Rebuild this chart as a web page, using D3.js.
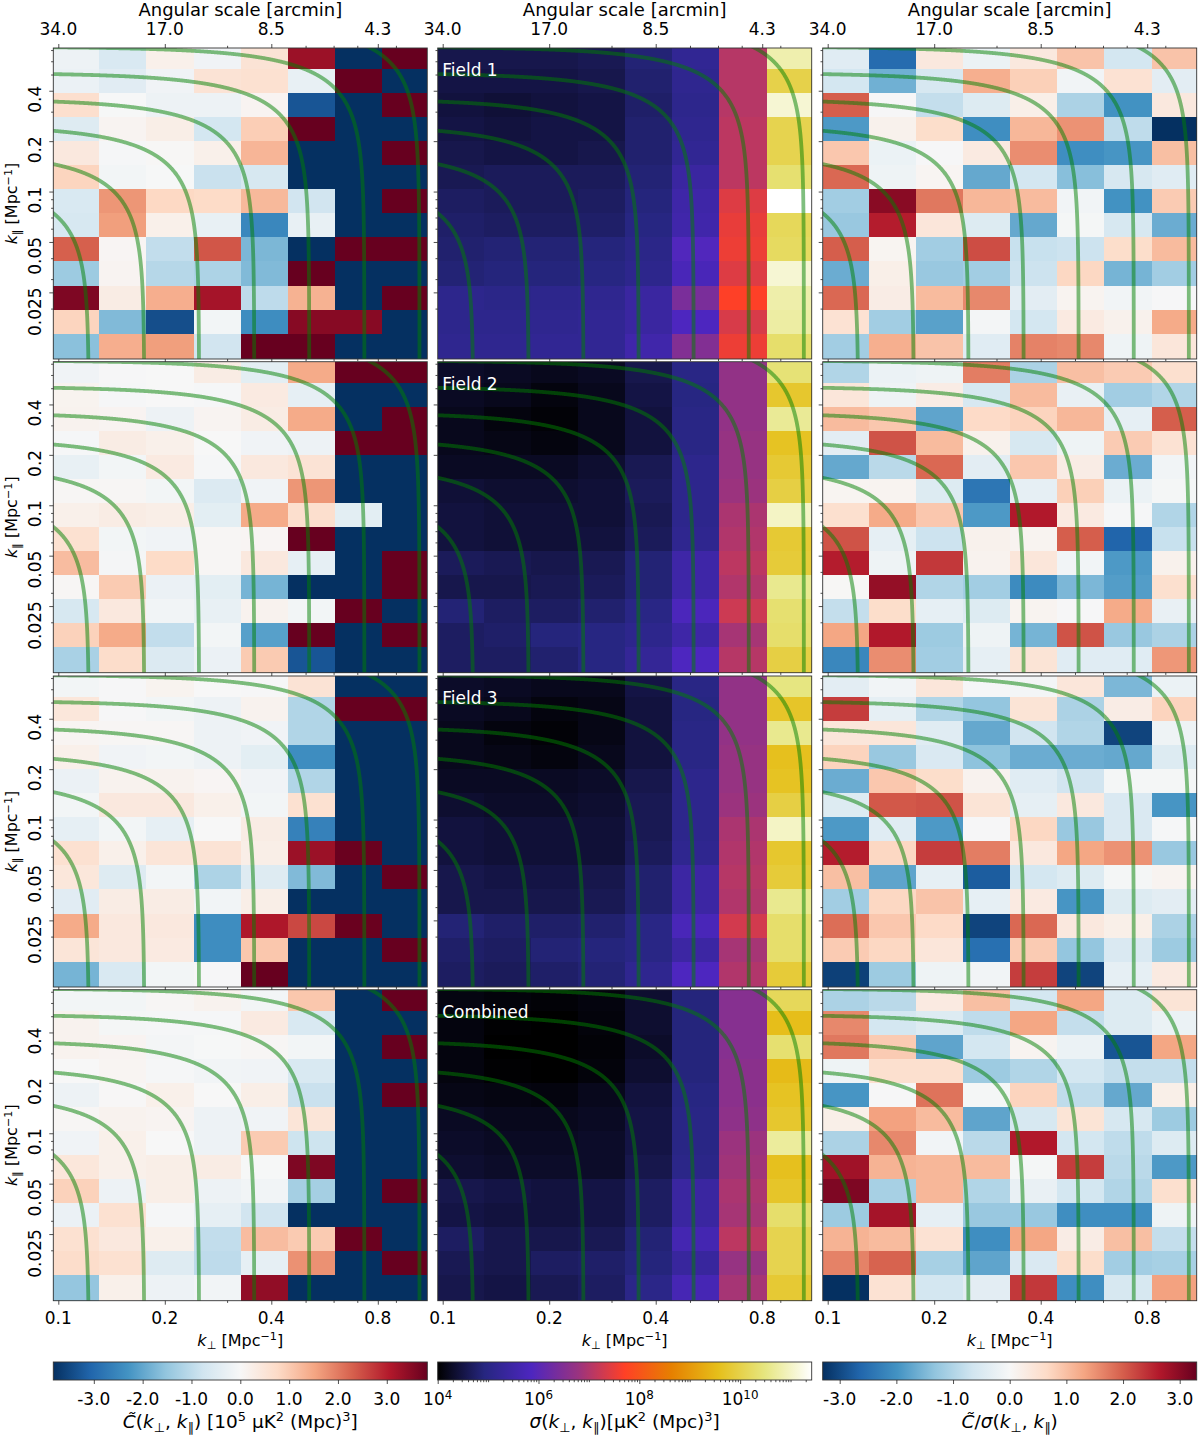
<!DOCTYPE html>
<html>
<head>
<meta charset="utf-8" />
<title></title>
<style>
html, body {
    padding: 0px;
    margin: 0px;
    background: #fff;
}
text {
    font-family: "DejaVu Sans", sans-serif;
    fill: #000;
}
.tick line, .bar-tick line {
    stroke: #222;
}
</style>
</head>
<body>
<div id="chart"></div>

<script src="https://cdnjs.cloudflare.com/ajax/libs/d3/7.8.5/d3.min.js"></script>
<script>
// rows run from the top of each panel (high k_par) to the bottom, 8 k_perp bins per row
var fieldNames = ["Field 1", "Field 2", "Field 3", "Combined"];
var arcminLabels = ["34.0", "17.0", "8.5", "4.3"];
var kPerpMajor = [0.1, 0.2, 0.4, 0.8];
var kPerpMinor = [0.3, 0.5, 0.6, 0.7, 0.9];
var kParMajor = [0.4, 0.2, 0.1, 0.05, 0.025];
var kParMinor = [0.7, 0.6, 0.5, 0.3, 0.09, 0.08, 0.07, 0.06, 0.04, 0.03, 0.02];
var kLevels = [0.122, 0.175, 0.25, 0.358, 0.512, 0.733, 1.049];
var kPerpRange = [0.0968, 1.104];
var kParRange = [0.01, 0.72];
var nPerp = 8, nPar = 13;
// first inner bin edge and bin ratio; the outer bins are cut by the axes
var kPerpFirstEdge = 0.1306, kPerpRatio = 1.359;
var kParFirstEdge = 0.539, kParRatio = 1.392;

var powerField1 = [
    [-0.2, -0.6, 0.2, -0.15, 0.55, 3.3, -4, 4],
    [-0.25, -0.45, -0.15, 0.55, 0.6, -0.3, 4, -4],
    [0.65, -0.02, -0.2, -0.2, 0.1, -3.3, -4, 4],
    [-0.5, 0.1, 0.25, -0.7, 0.95, 4, -4, -4],
    [0.4, -0.05, 0.03, 0.2, 1.3, -4, -4, 4],
    [0.85, -0.1, -0.02, -0.85, -0.65, -4, -4, -4],
    [-0.6, 1.7, 0.8, 0.75, 1.25, -0.75, -4, 4],
    [-0.65, 1.6, 0.2, -0.3, -2.5, -0.3, -4, -4],
    [2.3, 0.07, -0.95, 2.4, -1.75, -4, 4, 4],
    [-1.4, 0.1, -1.1, -1.2, -1.7, 4, -4, -4],
    [3.6, 0.3, 1.4, 3.2, -1, 1.35, -4, 4],
    [0.85, -1.7, -3.4, -0.1, -2.4, 3.5, 3.5, -4],
    [-1.6, 1.4, 1.6, -0.75, 4, 4, -4, -4]
];
var powerField2 = [
    [-0.15, -0.03, 0, 0.3, -0.4, 1.45, 4, 4],
    [0.12, -0.04, 0, -0.05, 0.35, -0.35, -4, -4],
    [0.15, 0.1, -0.2, 0.1, 0.3, 1.45, -4, 4],
    [-0.05, 0.3, 0.2, 0, -0.15, -0.2, 4, 4],
    [-0.3, -0.1, 0.35, -0.05, 0.4, 0.55, -4, -4],
    [0.05, 0.05, -0.1, -0.55, -0.15, 1.7, -4, -4],
    [0.2, 0.3, 0.25, -0.4, 1.45, 0.65, -0.4, -4],
    [0.6, -0.1, -0.15, 0.05, 0.07, 4, -4, -4],
    [1.2, -0.07, 0.75, 0.05, 0.4, -0.35, -4, 4],
    [0.05, 1, -0.25, -0.4, -1.8, -4, -4, 4],
    [-0.65, 0.4, -0.12, -0.3, 0.15, -0.1, 4, -4],
    [0.9, 1.45, -0.95, -0.1, -2.1, 4, -4, 4],
    [-1.25, 0.7, -0.55, -0.25, 1, -3.3, -4, -4]
];
var powerField3 = [
    [-0.1, -0.03, 0.12, 0, -0.03, 0.55, -4, -4],
    [0.45, -0.03, -0.1, -0.2, 0.15, -1.15, 4, 4],
    [0.08, 0.05, 0.05, -0.2, -0.15, -1.15, -4, -4],
    [0.2, -0.15, -0.1, -0.2, -0.4, -2.4, -4, -4],
    [-0.25, 0.15, 0.15, 0.07, -0.15, -1.15, -4, -4],
    [-0.1, 0.4, 0.4, 0.2, -0.1, 0.6, -4, -4],
    [-0.35, -0.1, -0.35, 0, 0.3, -2.6, -4, -4],
    [0.6, 0.2, 0.5, 0.55, 0.25, 3.3, 3.8, -4],
    [0.45, -0.5, -0.1, -1.2, -0.5, -1.7, -4, 4],
    [-0.45, 0.3, 0.3, -0.12, 0.25, -4, -4, -4],
    [1.45, 0.4, 0.4, -2.4, 3.1, 2.55, 3.8, -4],
    [0.5, 0.4, 0.35, -2.4, 1.05, -4, -4, 4],
    [-1.8, -0.6, -0.1, -0.03, 4, -4, -4, -4]
];
var powerCombined = [
    [-0.1, -0.1, 0.05, 0.15, -0.1, 1.05, -4, 4],
    [0.15, -0.06, -0.05, -0.04, 0.35, -0.6, -4, -4],
    [0.15, 0.1, -0.08, -0.02, 0.05, -0.1, -4, 4],
    [0, 0.08, -0.05, -0.12, -0.15, -0.6, -4, -4],
    [-0.2, 0.02, 0.2, 0, 0.25, -0.85, -4, 4],
    [0.05, 0.15, 0.1, -0.2, -0.15, 0.5, -4, -4],
    [-0.15, 0.2, 0, -0.2, 1, -0.8, -4, -4],
    [0.45, 0.2, 0.25, 0.3, -0.02, 3.6, -4, -4],
    [0.9, -0.2, 0.25, -0.2, -0.12, -1.3, -4, 4],
    [-0.25, 0.6, -0.05, -0.35, -0.75, -4, -4, -4],
    [0.6, 0.4, 0.2, -0.95, 1.2, 1, 3.8, -4],
    [0.7, 0.6, -0.5, -1, -0.35, 1.75, -4, 4],
    [-1.5, 0.2, -0.2, -0.12, 3.4, -4, -4, -4]
];

// log10 of sigma, one array per k_perp bin (the pattern is easier to read by column)
var sigmaField1 = [
    [4.55, 4.5, 4.45, 4.5, 4.55, 4.6, 4.7, 4.75, 4.8, 4.85, 5.1, 5.1, 5.15],
    [4.55, 4.5, 4.4, 4.45, 4.5, 4.65, 4.65, 4.7, 4.85, 4.9, 5.05, 5.1, 5.15],
    [4.55, 4.5, 4.45, 4.5, 4.5, 4.65, 4.65, 4.7, 4.85, 4.9, 5.1, 5.15, 5.2],
    [4.6, 4.55, 4.5, 4.5, 4.55, 4.65, 4.7, 4.75, 4.9, 4.95, 5.15, 5.2, 5.2],
    [4.85, 4.8, 4.75, 4.8, 4.8, 4.85, 4.9, 4.95, 5.05, 5.1, 5.4, 5.4, 5.55],
    [5.2, 5.15, 5.1, 5.15, 5.2, 5.4, 5.5, 5.55, 5.9, 5.75, 6.4, 5.85, 6.5],
    [7.05, 7.05, 7.05, 7.1, 7.1, 7.1, 7.4, 7.5, 7.55, 7.4, 7.7, 7.35, 7.55],
    [10.83, 10, 11.1, 10.05, 10.05, 10.35, 11.42, 10.15, 10.2, 11.1, 10.8, 10.75, 10.3]
];
var sigmaField2 = [
    [4.3, 4.25, 4.2, 4.2, 4.25, 4.4, 4.45, 4.45, 4.65, 4.55, 4.85, 4.7, 4.7],
    [4.25, 4.2, 4.1, 4.15, 4.25, 4.35, 4.4, 4.4, 4.6, 4.55, 4.7, 4.75, 4.7],
    [4.2, 4.1, 4.05, 4.1, 4.25, 4.35, 4.4, 4.4, 4.55, 4.6, 4.7, 4.9, 4.8],
    [4.25, 4.2, 4.2, 4.2, 4.35, 4.4, 4.4, 4.45, 4.6, 4.65, 4.8, 4.95, 4.95],
    [4.55, 4.5, 4.45, 4.45, 4.6, 4.65, 4.6, 4.65, 4.85, 4.85, 5, 5.1, 5.25],
    [5, 4.95, 5, 5, 5.1, 5.1, 5.1, 5.15, 5.5, 5.5, 5.8, 5.5, 5.85],
    [6.7, 6.7, 6.7, 6.75, 6.75, 6.8, 6.95, 7, 7.1, 7, 7.25, 6.9, 7.05],
    [10.4, 9.75, 10.65, 9.65, 9.8, 9.95, 11, 9.8, 9.85, 10.6, 10.35, 10.3, 9.95]
];
var sigmaField3 = [
    [4.3, 4.25, 4.2, 4.2, 4.25, 4.35, 4.45, 4.45, 4.55, 4.55, 4.85, 4.75, 4.7],
    [4.25, 4.2, 4.1, 4.15, 4.25, 4.3, 4.4, 4.4, 4.5, 4.55, 4.75, 4.7, 4.65],
    [4.2, 4.1, 4.05, 4.1, 4.25, 4.3, 4.4, 4.4, 4.5, 4.55, 4.75, 4.85, 4.75],
    [4.2, 4.15, 4.15, 4.2, 4.3, 4.35, 4.4, 4.4, 4.55, 4.6, 4.8, 4.9, 4.85],
    [4.5, 4.45, 4.45, 4.45, 4.55, 4.6, 4.6, 4.65, 4.8, 4.8, 5, 5, 5.15],
    [5, 4.95, 5, 5, 5.1, 5.1, 5.1, 5.15, 5.45, 5.45, 5.75, 5.45, 5.85],
    [6.7, 6.7, 6.7, 6.75, 6.75, 6.8, 6.95, 7, 7.05, 7, 7.3, 6.9, 7],
    [10.5, 9.7, 10.6, 9.6, 9.65, 9.95, 11, 9.75, 9.85, 10.6, 10.3, 10.3, 9.85]
];
var sigmaCombined = [
    [4.12, 4.1, 4.1, 4.1, 4.15, 4.25, 4.3, 4.35, 4.55, 4.5, 4.7, 4.6, 4.55],
    [4.08, 4.02, 4, 4.02, 4.12, 4.2, 4.25, 4.3, 4.5, 4.45, 4.55, 4.55, 4.5],
    [4.05, 4, 4, 4, 4.1, 4.2, 4.25, 4.3, 4.45, 4.45, 4.55, 4.7, 4.6],
    [4.1, 4.08, 4.05, 4.08, 4.2, 4.25, 4.3, 4.3, 4.5, 4.5, 4.6, 4.75, 4.7],
    [4.35, 4.35, 4.3, 4.35, 4.45, 4.5, 4.5, 4.55, 4.7, 4.7, 4.85, 4.9, 5.05],
    [4.9, 4.9, 4.9, 4.9, 4.95, 5, 5, 5.05, 5.4, 5.4, 5.65, 5.35, 5.7],
    [6.55, 6.55, 6.55, 6.6, 6.6, 6.65, 6.8, 6.85, 6.95, 6.9, 7.1, 6.75, 6.9],
    [10.15, 9.55, 10.35, 9.5, 9.65, 9.75, 10.7, 9.6, 9.7, 10.3, 10.05, 10.05, 9.8]
];

var ratioField1 = [
    [-0.4, -2.55, 0.35, -0.2, 0.35, 0.95, -0.6, 0.95],
    [-0.6, -1.6, -0.55, 1.2, 0.8, -0.1, 0.5, -0.35],
    [2, -0.02, -0.8, -0.45, 0.2, -1.05, -2, 0.35],
    [-1.9, 0.15, 0.6, -2.05, 1.1, 1.5, -0.85, -3.3],
    [0.9, -0.2, -0.02, 0.3, 1.55, -2.05, -1.95, 1],
    [1.9, -0.15, 0.07, -1.7, -0.6, -1.4, -0.55, -0.4],
    [-1.15, 3, 1.75, 1.1, 1.05, -0.1, -2, 0.85],
    [-1.25, 2.6, 0.4, -0.45, -1.7, -0.05, -0.55, -1.65],
    [2, 0.08, -1.15, 2.15, -0.75, -0.7, 0.6, 1.05],
    [-1.65, 0.2, -1.25, -1.15, -0.7, 0.7, -1.55, -1.15],
    [1.9, 0.25, 1.05, 1.6, -0.35, 0.1, -0.1, -0.02],
    [0.5, -1.15, -1.8, -0.07, -0.6, 0.3, 0.15, 1.25],
    [-1.15, 1.2, 0.95, -0.4, 1.65, 1.6, -0.15, 0.4]
];
var ratioField2 = [
    [-1, -0.2, -0.15, 1.7, -1.05, 1, 0.85, 0.55],
    [0.4, -0.15, 0.25, -0.55, 1.05, -0.25, -1.15, -1],
    [1.05, 0.9, -1.75, 0.65, 0.75, 1.1, -0.3, 2],
    [-0.35, 2.1, 1.05, 0.15, -0.55, -0.15, 0.85, 0.5],
    [-1.7, -0.9, 1.9, -0.35, 0.9, 0.25, -1.65, -0.1],
    [0.08, 0.1, -0.45, -2.4, -0.3, 0.8, -0.2, -0.05],
    [0.55, 1.25, 0.9, -1.9, 2.65, 0.3, -0.03, -1],
    [2.1, -0.3, -0.7, 0.15, 0.1, 2, -2.65, -0.75],
    [2.6, -0.15, 2.35, 0.12, 0.4, -0.1, -1.9, 0.15],
    [0.03, 2.9, -1, -1.15, -2.1, -1.5, -1.85, 0.55],
    [-0.8, 0.6, -0.3, -0.45, 0.1, -0.02, 1.25, -0.25],
    [1.3, 2.65, -1.2, -0.15, -1.55, 2.1, -1.25, -1.05],
    [-2.15, 1.55, -1.15, -0.3, 0.45, -0.4, -0.4, 1.45]
];
var ratioField3 = [
    [-0.35, -0.1, 0.4, -0.03, -0.07, 0.4, -1.5, -0.2],
    [2.3, -0.3, -1, -1.3, 0.45, -1.05, 0.25, 0.75],
    [0.4, 0.4, -0.4, -1.7, -0.65, -1, -3.05, -0.15],
    [0.75, -1.25, -0.5, -1.35, -1.65, -1.65, -1.7, -0.45],
    [-1.65, 0.9, 0.6, 0.12, -0.4, -0.65, -0.05, -0.05],
    [-0.45, 2.05, 2.1, 0.45, -0.3, 0.35, -0.5, -1.95],
    [-1.9, -0.4, -1.9, -0.02, 0.7, -1.25, -0.5, -0.03],
    [2.6, 0.7, 2.3, 1.7, 0.35, 1.3, 1.5, -1.25],
    [1, -1.75, -0.3, -2.75, -0.6, -0.45, -0.05, 0.1],
    [-1.15, 0.7, 0.95, -0.3, 0.3, -1.95, -0.45, -0.35],
    [1.85, 0.9, 0.65, -3.05, 1.9, 0.35, 0.2, -1.05],
    [0.85, 0.7, 0.4, -2.5, 0.85, -1.3, -0.5, -1.2],
    [-3.1, -1.2, -0.15, -0.1, 2.3, -3.05, -0.3, 0.3]
];
var ratioCombined = [
    [-1.05, -0.9, 0.3, 1, -0.6, 1.3, -0.45, 0.45],
    [1.6, -0.6, -0.45, -0.85, 1.3, -0.8, -0.45, -0.2],
    [1.75, 0.85, -1.75, -0.6, 0.1, -0.2, -2.85, 1.3],
    [-0.15, 0.55, 0.55, -1.2, -1, -0.6, -0.8, -0.8],
    [-1.95, -0.02, 1.8, -0.05, 0.75, -0.85, -1.7, 0.2],
    [0.2, 1.35, 1.05, -1.75, -0.55, 0.45, -0.55, -1.2],
    [-1.05, 1.6, -0.1, -0.9, 2.65, -0.6, -0.85, -0.45],
    [2.8, 1.15, 1.1, 1.05, -0.05, 2.3, -0.9, -1.9],
    [3.1, -1.1, 1.1, -1, -0.25, -0.6, -1, 0.55],
    [-1.2, 2.75, -0.3, -1.25, -1.25, -2.05, -2.05, -0.15],
    [1.15, 1.05, 0.5, -2.05, 1.3, 0.25, 1, -0.8],
    [1.65, 1.95, -1.1, -1.75, -0.5, 0.6, -1.15, -1.1],
    [-3.3, 0.5, -0.6, -0.35, 2.35, -2.05, -0.55, 1.35]
];

var powerRows = [powerField1, powerField2, powerField3, powerCombined];
var sigmaColumns = [sigmaField1, sigmaField2, sigmaField3, sigmaCombined];
var ratioRows = [ratioField1, ratioField2, ratioField3, ratioCombined];

var powerMax = 3.83, ratioMax = 3.3;
var sigmaLogMin = 4, sigmaLogMax = 11.42;
var divergingTicks = [-3, -2, -1, 0, 1, 2, 3];
var sigmaTicks = [4, 6, 8, 10];

var rdbuColors = ["#053061", "#2166ac", "#4393c3", "#92c5de", "#d1e5f0", "#f7f7f7", "#fddbc7", "#f4a582", "#d6604d", "#b2182b", "#67001f"];
var cmrColors = ["#000000", "#262680", "#4d26bf", "#993380", "#ff4026", "#e68000", "#e6bf1a", "#e6e680", "#ffffff"];

var width = 1200, height = 1437;
var colX = [53.3, 437.7, 822.7];
var rowY = [48, 361.7, 676, 989.7];
var panelW = 374, panelH = 311;
var barY = 1362, barH = 18;

var svg = d3.select("#chart").append("svg").attr("width", width).attr("height", height);
var defs = svg.append("defs");

var x = d3.scaleLog().domain(kPerpRange).range([0, panelW]);
var y = d3.scaleLog().domain(kParRange).range([panelH, 0]);

var perpEdges = [kPerpRange[0]];
d3.range(nPerp - 1).forEach(function(i) { perpEdges.push(kPerpFirstEdge * Math.pow(kPerpRatio, i)); });
perpEdges.push(kPerpRange[1]);

var parEdges = [kParRange[1]];
d3.range(nPar - 1).forEach(function(i) { parEdges.push(kParFirstEdge / Math.pow(kParRatio, i)); });
parEdges.push(kParRange[0]);

function stopsScale(colors, lo, hi) {
    var dom = colors.map(function(c, i) { return lo + (hi - lo) * i / (colors.length - 1); });
    return d3.scaleLinear().domain(dom).range(colors).interpolate(d3.interpolateRgb).clamp(true);
}
var powerColor = stopsScale(rdbuColors, -powerMax, powerMax);
var ratioColor = stopsScale(rdbuColors, -ratioMax, ratioMax);
var sigmaColor = stopsScale(cmrColors, sigmaLogMin, sigmaLogMax);

// text with italic / sub / sup runs, matplotlib mathtext style
function rich(sel, parts, size) {
    var shift = 0;
    parts.forEach(function(p) {
        var t = sel.append("tspan").text(p[0]);
        var want = 0;
        if (p[1] === "sub" || p[1] === "isub") want = size * 0.22;
        if (p[1] === "sup") want = -size * 0.36;
        t.attr("dy", want - shift);
        shift = want;
        if (p[1] === "i" || p[1] === "isub") t.style("font-style", "italic");
        if (p[1] === "sub" || p[1] === "sup" || p[1] === "isub") t.style("font-size", (size * 0.7) + "px");
    });
}

function drawTicks(g, axisFn, major, minor) {
    g.append("g").attr("class", "minor").call(axisFn.tickValues(minor).tickSize(2.2).tickFormat(""))
        .call(function(s) { s.select(".domain").remove(); });
    g.append("g").attr("class", "major").call(axisFn.tickValues(major).tickSize(4).tickFormat(""))
        .call(function(s) { s.select(".domain").remove(); });
    g.selectAll(".tick line").attr("stroke", "#222").attr("stroke-width", 0.8);
}

function drawPanel(col, row) {
    var g = svg.append("g").attr("transform", "translate(" + colX[col] + "," + rowY[row] + ")");
    var clipId = "clip-" + col + "-" + row;
    defs.append("clipPath").attr("id", clipId).append("rect").attr("width", panelW).attr("height", panelH);

    var cells = [];
    d3.range(nPar).forEach(function(r) {
        d3.range(nPerp).forEach(function(c) {
            var fill;
            if (col === 0) fill = powerColor(powerRows[row][r][c]);
            else if (col === 1) fill = sigmaColor(sigmaColumns[row][c][r]);
            else fill = ratioColor(ratioRows[row][r][c]);
            cells.push({r: r, c: c, fill: fill});
        });
    });

    g.append("g").selectAll("rect").data(cells).enter().append("rect")
        .attr("x", function(d) { return x(perpEdges[d.c]); })
        .attr("width", function(d) { return x(perpEdges[d.c + 1]) - x(perpEdges[d.c]); })
        .attr("y", function(d) { return y(parEdges[d.r]); })
        .attr("height", function(d) { return y(parEdges[d.r + 1]) - y(parEdges[d.r]); })
        .attr("fill", function(d) { return d.fill; })
        .attr("shape-rendering", "crispEdges");

    // lines of constant |k|
    var line = d3.line().x(function(d) { return x(d[0]); }).y(function(d) { return y(d[1]); });
    var angles = d3.range(0.0005, Math.PI / 2, 0.002);
    g.append("g").attr("clip-path", "url(#" + clipId + ")").selectAll("path").data(kLevels).enter().append("path")
        .attr("d", function(k) {
            return line(angles.map(function(a) { return [k * Math.sin(a), k * Math.cos(a)]; }));
        })
        .attr("fill", "none")
        .attr("stroke", "#008000")
        .attr("stroke-opacity", 0.5)
        .attr("stroke-width", 3.8);

    g.append("rect").attr("width", panelW).attr("height", panelH)
        .attr("fill", "none").attr("stroke", "#333").attr("stroke-width", 0.9);

    var bottom = g.append("g").attr("transform", "translate(0," + panelH + ")");
    drawTicks(bottom, d3.axisBottom(x), kPerpMajor, kPerpMinor);
    var left = g.append("g");
    drawTicks(left, d3.axisLeft(y), kParMajor, kParMinor);

    if (col === 0) {
        g.append("g").selectAll("text").data(kParMajor).enter().append("text")
            .attr("transform", function(d) { return "translate(-12," + (y(d) - 5) + ") rotate(-90)"; })
            .attr("text-anchor", "end")
            .style("font-size", "17px")
            .text(function(d) { return d; });
        var yl = g.append("text")
            .attr("transform", "translate(-36," + (panelH / 2) + ") rotate(-90)")
            .attr("text-anchor", "middle")
            .style("font-size", "16px");
        rich(yl, [["k", "i"], ["\u2225", "sub"], [" [Mpc"], ["\u22121", "sup"], ["]"]], 16);
    }

    if (col === 1) {
        g.append("text").attr("x", 4.5).attr("y", 28)
            .style("font-size", "17px")
            .style("fill", "#fff")
            .text(fieldNames[row]);
    }

    if (row === 0) {
        var top = g.append("g");
        drawTicks(top, d3.axisTop(x), kPerpMajor, kPerpMinor);
        g.append("g").selectAll("text").data(kPerpMajor).enter().append("text")
            .attr("x", function(d) { return x(d); })
            .attr("y", -13)
            .attr("text-anchor", "middle")
            .style("font-size", "17px")
            .text(function(d, i) { return arcminLabels[i]; });
        g.append("text").attr("x", panelW / 2).attr("y", -32)
            .attr("text-anchor", "middle")
            .style("font-size", "18px")
            .text("Angular scale [arcmin]");
    }

    if (row === 3) {
        g.append("g").selectAll("text").data(kPerpMajor).enter().append("text")
            .attr("x", function(d) { return x(d); })
            .attr("y", panelH + 23)
            .attr("text-anchor", "middle")
            .style("font-size", "17px")
            .text(function(d) { return d; });
        var xl = g.append("text").attr("x", panelW / 2).attr("y", panelH + 45)
            .attr("text-anchor", "middle")
            .style("font-size", "16px");
        rich(xl, [["k", "i"], ["\u22a5", "sub"], [" [Mpc"], ["\u22121", "sup"], ["]"]], 16);
    }
}

function drawColorbar(col, colors, scale, ticks, minor, fmt, labelParts) {
    var g = svg.append("g").attr("transform", "translate(" + colX[col] + "," + barY + ")");
    var id = "bar-" + col;
    var grad = defs.append("linearGradient").attr("id", id);
    colors.forEach(function(c, i) {
        grad.append("stop").attr("offset", i / (colors.length - 1)).attr("stop-color", c);
    });
    g.append("rect").attr("width", panelW).attr("height", barH)
        .attr("fill", "url(#" + id + ")")
        .attr("stroke", "#333").attr("stroke-width", 0.9);

    var axisG = g.append("g").attr("transform", "translate(0," + barH + ")");
    if (minor.length) {
        axisG.append("g").call(d3.axisBottom(scale).tickValues(minor).tickSize(2.2).tickFormat(""))
            .call(function(s) { s.select(".domain").remove(); });
    }
    axisG.append("g").call(d3.axisBottom(scale).tickValues(ticks).tickSize(4).tickFormat(""))
        .call(function(s) { s.select(".domain").remove(); });
    axisG.selectAll(".tick line").attr("stroke", "#222").attr("stroke-width", 0.8);

    g.append("g").selectAll("text").data(ticks).enter().append("text")
        .attr("x", function(d) { return scale(d); })
        .attr("y", 43)
        .attr("text-anchor", "middle")
        .style("font-size", "17px")
        .each(function(d) { fmt(d3.select(this), d); });

    var lab = g.append("text").attr("x", panelW / 2).attr("y", 66)
        .attr("text-anchor", "middle")
        .style("font-size", "18.5px");
    rich(lab, labelParts, 18.5);
}

fieldNames.forEach(function(name, row) {
    [0, 1, 2].forEach(function(col) { drawPanel(col, row); });
});

function fixedFmt(sel, d) {
    sel.text(d.toFixed(1));
}
function powerFmt(sel, d) {
    rich(sel, [["10"], [String(d), "sup"]], 17);
}

var sigmaMinor = [];
d3.range(sigmaLogMin, 12).forEach(function(e) {
    d3.range(1, 10).forEach(function(m) {
        var v = e + Math.log10(m);
        if (v <= sigmaLogMax && !(m === 1 && sigmaTicks.indexOf(e) >= 0)) sigmaMinor.push(v);
    });
});

drawColorbar(0, rdbuColors, d3.scaleLinear().domain([-powerMax, powerMax]).range([0, panelW]), divergingTicks, [], fixedFmt,
    [["C\u0303", "i"], ["(", ""], ["k", "i"], ["\u22a5", "sub"], [", "], ["k", "i"], ["\u2225", "sub"], [") [10"], ["5", "sup"], [" \u03bcK"], ["2", "sup"], [" (Mpc)"], ["3", "sup"], ["]"]]);
drawColorbar(1, cmrColors, d3.scaleLinear().domain([sigmaLogMin, sigmaLogMax]).range([0, panelW]), sigmaTicks, sigmaMinor, powerFmt,
    [["\u03c3", "i"], ["("], ["k", "i"], ["\u22a5", "sub"], [", "], ["k", "i"], ["\u2225", "sub"], [")[\u03bcK"], ["2", "sup"], [" (Mpc)"], ["3", "sup"], ["]"]]);
drawColorbar(2, rdbuColors, d3.scaleLinear().domain([-ratioMax, ratioMax]).range([0, panelW]), divergingTicks, [], fixedFmt,
    [["C\u0303", "i"], ["/"], ["\u03c3", "i"], ["("], ["k", "i"], ["\u22a5", "sub"], [", "], ["k", "i"], ["\u2225", "sub"], [")"]]);
</script>
</body>
</html>
